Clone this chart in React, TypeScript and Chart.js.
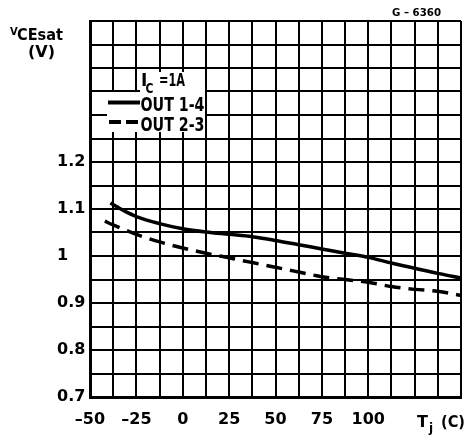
import React, { useEffect, useRef } from "react";
import { Chart, registerables } from "chart.js";

Chart.register(...registerables);

// Junction temperature (°C) and VCEsat (V)
const tempOut14 = [-39, -32, -25, -12.5, 0, 12.5, 25, 37.5, 50, 62.5, 75, 87.5, 100, 112.5, 125, 137.5, 150];
const vceOut14 = [1.113, 1.097, 1.084, 1.069, 1.058, 1.051, 1.046, 1.041, 1.033, 1.024, 1.015, 1.006, 0.997, 0.985, 0.974, 0.963, 0.953];

const tempOut23 = [-42, -37.5, -25, -12.5, 0, 12.5, 25, 37.5, 50, 62.5, 75, 87.5, 100, 112.5, 125, 137.5, 150];
const vceOut23 = [1.074, 1.066, 1.046, 1.03, 1.017, 1.006, 0.996, 0.986, 0.976, 0.966, 0.956, 0.95, 0.944, 0.935, 0.929, 0.925, 0.916];

const xTickValues = [-50, -25, 0, 25, 50, 75, 100];
const xTickTexts = ["–50", "–25", "0", "25", "50", "75", "100"];
const yTickValues = [0.7, 0.8, 0.9, 1.0, 1.1, 1.2];
const yTickTexts = ["0.7", "0.8", "0.9", "1", "1.1", "1.2"];

const legendNames = ["OUT 1-4", "OUT 2-3"];
const figureCode = "G – 6360";

const FONT = '"DejaVu Sans", sans-serif';

function labelFor(v: number, values: number[], texts: string[]) {
  for (let i = 0; i < values.length; i++) {
    if (Math.abs(v - values[i]) < 1e-6) return texts[i];
  }
  return "";
}

function fitText(ctx: CanvasRenderingContext2D, text: string, x: number, y: number, font: string, width?: number) {
  ctx.save();
  ctx.font = font;
  if (width) {
    const w = ctx.measureText(text).width;
    const s = width / w;
    ctx.translate(x, y);
    ctx.scale(s, 1);
    ctx.fillText(text, 0, 0);
  } else {
    ctx.fillText(text, x, y);
  }
  ctx.restore();
}

const overlayPlugin = {
  id: "overlay",
  afterDraw(chart: any) {
    const ctx = chart.ctx as CanvasRenderingContext2D;
    ctx.save();
    // white legend box
    ctx.fillStyle = "#fff";
    ctx.fillRect(140, 72, 65, 20);
    ctx.fillRect(107, 92, 98, 40);

    ctx.fillStyle = "#000";
    ctx.textBaseline = "alphabetic";
    ctx.textAlign = "left";

    // I_C = 1A
    fitText(ctx, "I", 141, 85.5, `bold 17px ${FONT}`);
    fitText(ctx, "C", 145.5, 92.5, `bold 14px ${FONT}`, 8);
    fitText(ctx, "=1A", 159, 85.5, `bold 17px ${FONT}`, 26);

    // legend rows
    fitText(ctx, legendNames[0], 140.5, 111, `bold 19px ${FONT}`, 64);
    fitText(ctx, legendNames[1], 140.5, 130.5, `bold 19px ${FONT}`, 64);

    ctx.strokeStyle = "#000";
    ctx.lineWidth = 4;
    ctx.beginPath();
    ctx.moveTo(108, 102.5);
    ctx.lineTo(140, 102.5);
    ctx.stroke();
    ctx.setLineDash([12, 5]);
    ctx.beginPath();
    ctx.moveTo(109, 122);
    ctx.lineTo(138, 122);
    ctx.stroke();
    ctx.setLineDash([]);

    // figure code
    fitText(ctx, figureCode, 392, 16, `bold 11px ${FONT}`, 49);

    // y axis title
    fitText(ctx, "V", 10, 35, `bold 10px ${FONT}`);
    fitText(ctx, "CEsat", 17, 40, `bold 15px ${FONT}`, 46);
    fitText(ctx, "(V)", 28, 57, `bold 15px ${FONT}`, 27);

    // x axis title
    fitText(ctx, "T", 417, 427, `bold 16px ${FONT}`);
    fitText(ctx, "j", 429, 432, `bold 12px ${FONT}`);
    fitText(ctx, "(C)", 441, 427, `bold 16px ${FONT}`, 24);
    ctx.restore();
  },
};

export default function App() {
  const canvasRef = useRef<HTMLCanvasElement | null>(null);

  useEffect(() => {
    if (!canvasRef.current) return;
    const chart = new Chart(canvasRef.current, {
      type: "scatter",
      data: {
        datasets: [
          {
            label: legendNames[0],
            data: tempOut14.map((t, i) => ({ x: t, y: vceOut14[i] })),
            showLine: true,
            borderColor: "#000",
            borderWidth: 3.5,
            pointRadius: 0,
            cubicInterpolationMode: "monotone",
          },
          {
            label: legendNames[1],
            data: tempOut23.map((t, i) => ({ x: t, y: vceOut23[i] })),
            showLine: true,
            borderColor: "#000",
            borderWidth: 3.5,
            borderDash: [16, 8],
            pointRadius: 0,
            cubicInterpolationMode: "monotone",
          },
        ],
      },
      options: {
        animation: false,
        responsive: false,
        maintainAspectRatio: false,
        layout: { padding: { left: 57, top: 21, right: 7, bottom: 0 } },
        plugins: {
          legend: { display: false },
          tooltip: { enabled: false },
        },
        scales: {
          x: {
            type: "linear",
            min: -50,
            max: 150,
            grid: { color: "#000", lineWidth: 2, drawTicks: false },
            border: { color: "#000", width: 3 },
            afterFit: (s: any) => {
              s.height = 43;
            },
            ticks: {
              stepSize: 12.5,
              maxTicksLimit: 100,
              autoSkip: false,
              maxRotation: 0,
              padding: 7,
              color: "#000",
              font: { family: FONT, size: 16, weight: "bold", lineHeight: 2 },
              callback: (v: any) => labelFor(Number(v), xTickValues, xTickTexts),
            },
          },
          y: {
            type: "linear",
            min: 0.7,
            max: 1.5,
            grid: { color: "#000", lineWidth: 2, drawTicks: false },
            border: { color: "#000", width: 3 },
            afterFit: (s: any) => {
              s.width = 33;
            },
            ticks: {
              stepSize: 0.05,
              maxTicksLimit: 100,
              autoSkip: false,
              crossAlign: "far",
              padding: 0,
              color: "#000",
              font: { family: FONT, size: 16, weight: "bold" },
              callback: (v: any) => labelFor(Number(v), yTickValues, yTickTexts),
            },
          },
        },
      },
      plugins: [overlayPlugin],
    } as any);
    return () => chart.destroy();
  }, []);

  return (
    <div style={{ position: "absolute", left: 0, top: 0, width: 468, height: 440, background: "#fff" }}>
      <canvas ref={canvasRef} width={468} height={440} style={{ width: 468, height: 440 }} />
    </div>
  );
}
